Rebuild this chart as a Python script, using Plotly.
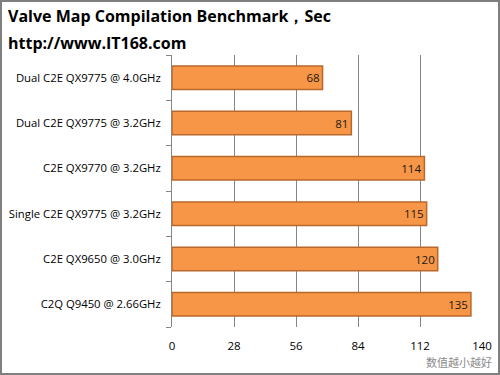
import plotly.graph_objects as go

categories = ["C2Q Q9450 @ 2.66GHz", "C2E QX9650 @ 3.0GHz", "Single C2E QX9775 @ 3.2GHz",
              "C2E QX9770 @ 3.2GHz", "Dual C2E QX9775 @ 3.2GHz", "Dual C2E QX9775 @ 4.0GHz"]
values = [135, 120, 115, 114, 81, 68]
x_ticks = [0, 28, 56, 84, 112, 140]

W, H = 500, 375
ml, mr, mt, mb = 172, 18, 55, 48
pw, ph = W - ml - mr, H - mt - mb

font = "Open Sans, Noto Sans, sans-serif"

fig = go.Figure(go.Bar(
    x=values, y=categories, orientation="h",
    marker=dict(color="#F79646", line=dict(color="#B9682C", width=1.5)),
    width=0.52,
    text=[str(v) for v in values], textposition="inside", insidetextanchor="end",
    textfont=dict(color="#1a1a1a", size=11.5, family=font),
))

fig.update_layout(
    width=W, height=H,
    margin=dict(l=ml, r=mr, t=mt, b=mb, autoexpand=False),
    paper_bgcolor="white", plot_bgcolor="white",
    showlegend=False,
    font=dict(family=font, size=11, color="#000"),
    xaxis=dict(range=[0, 140], tickvals=x_ticks, showgrid=True, gridcolor="#868686",
               gridwidth=1, zeroline=False, showline=False, ticks="",
               tickfont=dict(size=11.5, color="#000"), ticklabelstandoff=10,
               automargin=False, fixedrange=True),
    yaxis=dict(type="category", categoryorder="array", categoryarray=categories,
               tickson="boundaries", ticks="outside", ticklen=5, tickcolor="#868686",
               showline=True, linecolor="#868686", linewidth=1, showgrid=False,
               tickfont=dict(size=11.3, color="#000"), ticklabelstandoff=8,
               automargin=False, fixedrange=True),
    bargap=0.48,
)

fig.add_annotation(text="<b>Valve Map Compilation Benchmark，Sec</b>", xref="paper", yref="paper",
                   x=-(ml - 6) / pw, y=1 + (mt - 16) / ph, xanchor="left", yanchor="middle",
                   showarrow=False, font=dict(size=16, family=font, color="#000"))
fig.add_annotation(text="<b>http://www.IT168.com</b>", xref="paper", yref="paper",
                   x=-(ml - 6) / pw, y=1 + (mt - 43) / ph, xanchor="left", yanchor="middle",
                   showarrow=False, font=dict(size=16, family=font, color="#000"))
fig.add_annotation(text="数值越小越好", xref="paper", yref="paper",
                   x=1 + (mr - 6) / pw, y=-(362 - (H - mb)) / ph, xanchor="right", yanchor="middle",
                   showarrow=False, font=dict(size=11, family="Noto Sans CJK SC", color="#8c8c8c"))

fig.add_shape(type="rect", xref="paper", yref="paper",
              x0=-(ml - 1) / pw, x1=1 + (mr - 1) / pw, y0=-(mb - 1) / ph, y1=1 + (mt - 1) / ph,
              line=dict(color="#7f7f7f", width=2), layer="above")

fig.write_html("out.html", config={"displayModeBar": False},
               post_script="document.body.style.margin='0';document.body.style.overflow='hidden';")
